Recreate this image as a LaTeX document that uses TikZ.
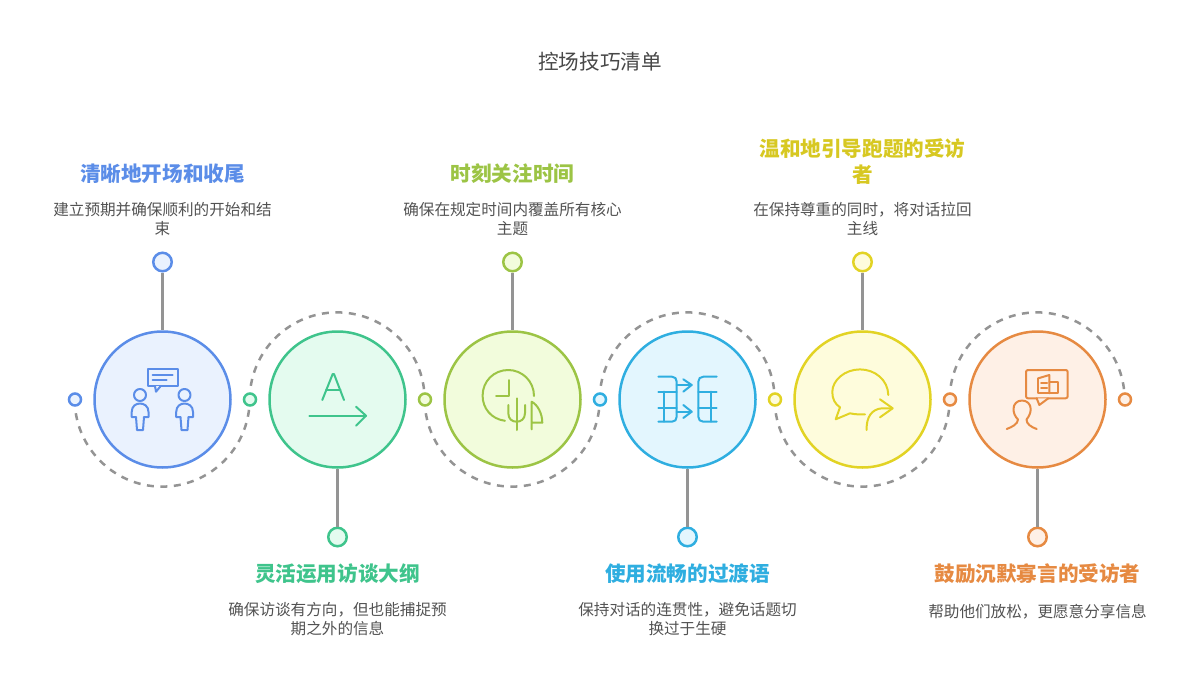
\documentclass[tikz,border=0pt]{standalone}
\usepackage{fontspec}
\setmainfont{Noto Sans CJK SC}
\usepackage{tikz}
\usetikzlibrary{shapes,arrows, positioning}
\definecolor{cblue}{HTML}{5B8DE8}
\definecolor{cgreen}{HTML}{3FC48C}
\definecolor{colive}{HTML}{9CC445}
\definecolor{ccyan}{HTML}{2FAEE0}
\definecolor{cyellow}{HTML}{E2D324}
\definecolor{corange}{HTML}{E68A42}
\definecolor{tblue}{HTML}{EAF2FE}
\definecolor{tgreen}{HTML}{E4FBEF}
\definecolor{tolive}{HTML}{F2FCDC}
\definecolor{tcyan}{HTML}{E3F6FE}
\definecolor{tyellow}{HTML}{FEFCDC}
\definecolor{torange}{HTML}{FEF0E6}
\tikzstyle{bubble} = [circle, draw, line width=2.5pt, minimum size=136pt, inner sep=0pt]
\tikzstyle{pin} = [circle, draw, line width=2.5pt, minimum size=18.5pt, inner sep=0pt]
\tikzstyle{dot} = [circle, draw, line width=2.5pt, minimum size=12pt, inner sep=0pt]
\tikzstyle{stem} = [draw, line width=2.5pt, color=black!42]
\tikzstyle{orbit} = [draw, line width=2.5pt, color=black!42, dash pattern=on 7pt off 6.5pt, dash phase=7pt]
\tikzstyle{icon} = [draw, line width=2pt, line cap=round, line join=round]
\tikzstyle{head} = [align=center, font=\fontsize{20.6}{26}\selectfont\bfseries]
\tikzstyle{note} = [align=center, text=black!68, font=\fontsize{15.6}{19}\selectfont]
\begin{document}
\begin{tikzpicture}[x=1pt, y=-1pt]
	\useasboundingbox (0,0) rectangle (1200,699);
	\node [text=black!72, font=\fontsize{20.6}{24}\selectfont] (title) at (600,62) {控场技巧清单};

	\node [bubble, draw=cblue, fill=tblue] (bub1) at (162.5,399.5) {};
	\node [bubble, draw=cgreen, fill=tgreen] (bub2) at (337.5,399.5) {};
	\node [bubble, draw=colive, fill=tolive] (bub3) at (512.5,399.5) {};
	\node [bubble, draw=ccyan, fill=tcyan] (bub4) at (687.5,399.5) {};
	\node [bubble, draw=cyellow, fill=tyellow] (bub5) at (862.5,399.5) {};
	\node [bubble, draw=corange, fill=torange] (bub6) at (1037.5,399.5) {};

	\node [dot, draw=cblue, fill=tblue] (dot1) at (75,399.5) {};
	\node [dot, draw=cgreen, fill=tgreen] (dot2) at (250,399.5) {};
	\node [dot, draw=colive, fill=tolive] (dot3) at (425,399.5) {};
	\node [dot, draw=ccyan, fill=tcyan] (dot4) at (600,399.5) {};
	\node [dot, draw=cyellow, fill=tyellow] (dot5) at (775,399.5) {};
	\node [dot, draw=corange, fill=torange] (dot6) at (950,399.5) {};
	\node [dot, draw=corange, fill=torange] (dot7) at (1125,399.5) {};

	\node [pin, draw=cblue, fill=tblue] (pin1) at (162.5,262) {};
	\node [pin, draw=cgreen, fill=tgreen] (pin2) at (337.5,537) {};
	\node [pin, draw=colive, fill=tolive] (pin3) at (512.5,262) {};
	\node [pin, draw=ccyan, fill=tcyan] (pin4) at (687.5,537) {};
	\node [pin, draw=cyellow, fill=tyellow] (pin5) at (862.5,262) {};
	\node [pin, draw=corange, fill=torange] (pin6) at (1037.5,537) {};

	\path [stem] (pin1) -- (bub1);
	\path [stem] (pin2) -- (bub2);
	\path [stem] (pin3) -- (bub3);
	\path [stem] (pin4) -- (bub4);
	\path [stem] (pin5) -- (bub5);
	\path [stem] (pin6) -- (bub6);

	\path [orbit] (dot1.south) arc [start angle=175, end angle=5, radius=87.5] -- (dot2.south);
	\path [orbit] (dot2.north) arc [start angle=185, end angle=355, radius=87.5] -- (dot3.north);
	\path [orbit] (dot3.south) arc [start angle=175, end angle=5, radius=87.5] -- (dot4.south);
	\path [orbit] (dot4.north) arc [start angle=185, end angle=355, radius=87.5] -- (dot5.north);
	\path [orbit] (dot5.south) arc [start angle=175, end angle=5, radius=87.5] -- (dot6.south);
	\path [orbit] (dot6.north) arc [start angle=185, end angle=355, radius=87.5] -- (dot7.north);

	\node [head, text=cblue] (head1) at (162.5,174) {清晰地开场和收尾};
	\node [note] (note1) at (162.5,219) {建立预期并确保顺利的开始和结\\束};
	\node [head, text=cgreen] (head2) at (337.5,574) {灵活运用访谈大纲};
	\node [note] (note2) at (337.5,619) {确保访谈有方向，但也能捕捉预\\期之外的信息};
	\node [head, text=colive] (head3) at (512.5,174) {时刻关注时间};
	\node [note] (note3) at (512.5,219) {确保在规定时间内覆盖所有核心\\主题};
	\node [head, text=ccyan] (head4) at (687.5,574) {使用流畅的过渡语};
	\node [note] (note4) at (687.5,619) {保持对话的连贯性，避免话题切\\换过于生硬};
	\node [head, text=cyellow!95!black] (head5) at (862.5,162) {温和地引导跑题的受访\\者};
	\node [note] (note5) at (862.5,219) {在保持尊重的同时，将对话拉回\\主线};
	\node [head, text=corange] (head6) at (1037.5,574) {鼓励沉默寡言的受访者};
	\node [note] (note6) at (1037.5,612) {帮助他们放松，更愿意分享信息};

	% icon 1
	\draw [icon, draw=cblue] (147.7,369) rectangle (177.7,386);
	\draw [icon, draw=cblue, fill=tblue] (155,386) -- (156,391.7) -- (160.7,386);
	\draw [icon, draw=cblue] (152.7,375) -- (172.7,375);
	\draw [icon, draw=cblue] (152.7,380.3) -- (166.7,380.3);
	\draw [icon, draw=cblue] (140,395) circle (6);
	\draw [icon, draw=cblue] (137,430) -- (136,417) -- (131.7,417) -- (131.7,412) .. controls (131.7,406) and (136,403.5) .. (140,403.5) .. controls (144,403.5) and (148.5,406) .. (148.5,412) -- (148.5,417) -- (144,417) -- (143,430) -- cycle;
	\draw [icon, draw=cblue] (184.5,395) circle (6);
	\draw [icon, draw=cblue] (181.5,430) -- (180.5,417) -- (176.2,417) -- (176.2,412) .. controls (176.2,406) and (180.5,403.5) .. (184.5,403.5) .. controls (188.5,403.5) and (193,406) .. (193,412) -- (193,417) -- (188.5,417) -- (187.5,430) -- cycle;

	% icon 2
	\draw [icon, draw=cgreen] (322.3,400) -- (332.7,374) -- (334,374) -- (344,400);
	\draw [icon, draw=cgreen] (326,390) -- (340.5,390);
	\draw [icon, draw=cgreen] (309.3,415.7) -- (366,415.7);
	\draw [icon, draw=cgreen] (356,406.7) -- (366,415.7) -- (356,425.7);

	% icon 3
	\draw [icon, draw=colive] (505,420.8) .. controls (491,419) and (482.6,408) .. (482.6,395.7) .. controls (482.6,381) and (494,370) .. (508.3,370) .. controls (522,370) and (534,381) .. (534,396);
	\draw [icon, draw=colive] (509,380) -- (509,396) -- (496,396);
	\draw [icon, draw=colive] (516.7,398.3) -- (516.7,430);
	\draw [icon, draw=colive] (508.3,405) -- (508.3,413) .. controls (508.3,419) and (512,421.7) .. (516.7,421.7) .. controls (521,421.7) and (525,419) .. (525,413) -- (525,405);
	\draw [icon, draw=colive] (531.7,429.3) -- (531.7,401.7) .. controls (538,405) and (542.3,414) .. (542.3,422.7) -- (531.7,422.7);

	% icon 4
	\draw [icon, draw=ccyan] (658.3,376.7) -- (672,376.7) .. controls (675,376.7) and (676.7,378.7) .. (676.7,381.7) -- (676.7,416.7) .. controls (676.7,419.7) and (675,421.7) .. (672,421.7) -- (658.3,421.7);
	\draw [icon, draw=ccyan] (658.3,391.7) -- (676.7,391.7);
	\draw [icon, draw=ccyan] (658.3,407.7) -- (676.7,407.7);
	\draw [icon, draw=ccyan] (664,391.7) -- (664,421.7);
	\draw [icon, draw=ccyan] (676.7,385) -- (691.7,385);
	\draw [icon, draw=ccyan] (683.3,379.3) -- (691.7,385) -- (683.3,391.7);
	\draw [icon, draw=ccyan] (676.7,411.7) -- (691.7,411.7);
	\draw [icon, draw=ccyan] (683.3,405) -- (691.7,411.7) -- (683.3,418);
	\draw [icon, draw=ccyan] (716.7,376.7) -- (703.3,376.7) .. controls (700.3,376.7) and (698.3,378.7) .. (698.3,381.7) -- (698.3,416.7) .. controls (698.3,419.7) and (700.3,421.7) .. (703.3,421.7) -- (716.7,421.7);
	\draw [icon, draw=ccyan] (698.3,391.7) -- (716.7,391.7);
	\draw [icon, draw=ccyan] (698.3,407.7) -- (716.7,407.7);
	\draw [icon, draw=ccyan] (711,391.7) -- (711,421.7);

	% icon 5
	\draw [icon, draw=cyellow] (888.3,395) .. controls (888,380) and (875,369.4) .. (860,369.4) .. controls (845,369.4) and (832.3,380) .. (832.3,392) .. controls (832.3,399) and (835,404) .. (840,407.3) -- (835.7,419.3) -- (850,413.3) .. controls (855,414.5) and (860,414.5) .. (865,414.3);
	\draw [icon, draw=cyellow] (866.7,430) .. controls (866,417) and (872,409) .. (882,408.3) -- (891.7,408.3);
	\draw [icon, draw=cyellow] (880,399.3) -- (892.7,408.3) -- (880,417.3);

	% icon 6
	\draw [icon, draw=corange, rounded corners=2pt] (1026,370) rectangle (1067.7,398.3);
	\draw [icon, draw=corange, fill=torange] (1036.7,398.3) -- (1039.3,405) -- (1048.3,398.3);
	\draw [icon, draw=corange] (1038.3,378.3) -- (1038.3,393.3) -- (1058.3,393.3) -- (1058.3,382) -- (1049.3,382);
	\draw [icon, draw=corange] (1038.3,378.3) -- (1049.3,375) -- (1049.3,393.3);
	\draw [icon, draw=corange] (1041,383) -- (1047,383);
	\draw [icon, draw=corange] (1041,388) -- (1047,388);
	\draw [icon, draw=corange] (1006.7,429) .. controls (1012,427) and (1018,424) .. (1018,419.5) .. controls (1015,416.5) and (1013.5,413) .. (1013.5,409) .. controls (1013.5,404) and (1017,400.5) .. (1022,400.5) .. controls (1027,400.5) and (1030.7,404) .. (1030.7,409) .. controls (1030.7,413) and (1029,416.5) .. (1026.5,419.5) .. controls (1026.5,424) and (1031,427) .. (1036.7,429);
\end{tikzpicture}
\end{document}
